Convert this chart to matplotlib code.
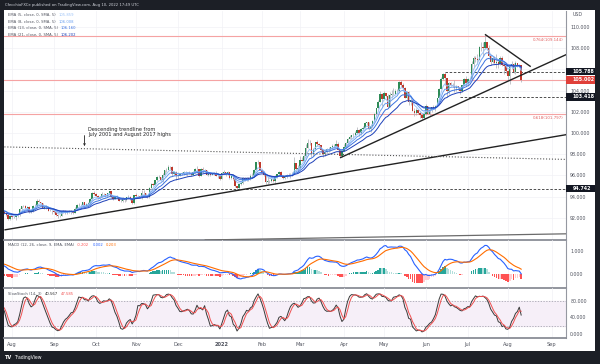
import numpy as np
import pandas as pd
import matplotlib
matplotlib.use("Agg")
import matplotlib.pyplot as plt
from matplotlib.patches import Rectangle

# US Dollar Index daily bars, 1 Jun 2021 - 10 Aug 2022 (one row per month)
close = [
    89.84, 89.91, 90.52, 90.13, 90.02, 90.07, 90.08, 90.07, 90.51, 90.53, 90.53, 91.40, 91.90, 92.22, 91.92, 91.75, 91.80, 91.83, 91.85, 91.89, 92.07, 92.44,
    92.57, 92.23, 92.24, 92.57, 92.64, 92.40, 92.13, 92.24, 92.75, 92.39, 92.69, 92.68, 92.88, 92.95, 92.76, 92.81, 92.90, 92.65, 92.47, 92.29, 91.88, 92.17,
    92.06, 92.06, 92.27, 92.26, 92.80, 93.07, 93.06, 92.93, 92.99, 92.52, 92.61, 93.13, 93.14, 93.59, 93.51, 93.37, 92.96, 92.99, 93.05, 92.67, 92.67, 92.63,
    92.52, 92.24, 92.13, 92.21, 92.51, 92.66, 92.49, 92.57, 92.66, 92.61, 92.48, 92.87, 93.19, 93.24, 93.19, 93.46, 93.08, 93.31, 93.36, 93.77, 94.35, 94.23,
    94.04, 93.82, 93.98, 94.25, 94.23, 94.09, 94.31, 94.51, 93.96, 93.79, 93.95, 93.95, 93.59, 93.56, 93.77, 93.65, 93.92, 93.94, 93.76, 93.37, 94.12,
    94.06, 94.07, 93.93, 94.35, 94.32, 94.04, 93.95, 94.83, 95.17, 95.13, 95.52, 95.84, 95.84, 95.55, 96.02, 96.50, 96.51, 96.83, 96.77, 96.09, 96.34, 95.99,
    96.03, 96.14, 96.19, 96.28, 96.32, 96.29, 96.22, 96.07, 96.34, 96.57, 96.56, 95.97, 96.63, 96.47, 96.52, 96.06, 96.10, 96.03, 96.08, 96.19, 95.97, 95.97, 95.67,
    96.21, 96.27, 96.19, 96.32, 95.72, 95.99, 95.62, 94.96, 94.83, 95.16, 95.27, 95.76, 95.53, 95.75, 95.64, 95.95, 95.92, 96.54, 97.25, 97.27, 96.54,
    96.36, 96.06, 95.40, 95.48, 95.42, 95.62, 95.50, 95.80, 96.08, 96.32, 95.97, 95.75, 95.87, 96.05, 96.05, 96.04, 96.17, 97.13, 96.62, 96.71,
    97.43, 97.38, 97.79, 98.61, 99.07, 99.05, 97.98, 98.49, 99.12, 98.99, 98.82, 98.39, 97.97, 98.20, 98.49, 98.47, 98.63, 98.81, 98.79, 98.94, 98.40, 97.83, 98.31,
    98.63, 99.03, 99.47, 99.63, 99.78, 99.83, 100.01, 100.30, 100.01, 100.33, 100.50, 100.96, 101.03, 100.39, 100.61, 101.12, 101.74, 102.35, 102.96, 103.67, 103.18,
    103.76, 103.46, 102.47, 103.55, 103.66, 103.69, 103.92, 103.95, 104.85, 104.56, 104.19, 103.32, 103.84, 102.90, 103.15, 102.08, 101.84, 102.17, 101.84, 101.66, 101.40, 101.76,
    102.55, 101.80, 102.17, 102.43, 102.33, 102.56, 103.31, 104.16, 105.07, 105.52, 105.14, 103.97, 104.69, 104.52, 104.43, 104.19, 104.42, 104.21, 103.93, 104.51, 105.10, 104.69,
    105.13, 105.11, 106.52, 107.05, 106.96, 106.87, 108.08, 108.07, 108.01, 108.57, 108.00, 107.29, 106.67, 107.06, 106.58, 106.71, 106.47, 107.10, 106.45, 106.29, 105.84,
    105.36, 106.30, 106.54, 105.72, 106.61, 106.37, 106.36, 105.00,
]
high = [
    90.15, 90.04, 90.63, 90.65, 90.19, 90.21, 90.28, 90.28, 90.56, 90.62, 90.64, 91.44, 91.99, 92.41, 92.30, 91.97, 91.83, 91.95, 91.96, 91.95, 92.11, 92.46,
    92.74, 92.70, 92.29, 92.74, 92.83, 92.70, 92.43, 92.29, 92.85, 92.84, 92.80, 92.83, 92.99, 93.19, 93.04, 92.91, 92.96, 92.92, 92.70, 92.61, 92.33, 92.19,
    92.20, 92.18, 92.35, 92.33, 92.88, 93.11, 93.18, 93.19, 93.07, 93.06, 92.73, 93.16, 93.25, 93.73, 93.73, 93.52, 93.43, 93.04, 93.18, 93.11, 92.85, 92.77,
    92.77, 92.56, 92.34, 92.30, 92.56, 92.73, 92.74, 92.63, 92.73, 92.73, 92.65, 93.00, 93.27, 93.43, 93.30, 93.53, 93.48, 93.42, 93.53, 93.86, 94.43, 94.50,
    94.29, 94.11, 94.06, 94.44, 94.30, 94.27, 94.36, 94.56, 94.52, 94.03, 94.00, 94.15, 93.97, 93.76, 93.91, 93.88, 93.99, 94.11, 94.07, 93.87, 94.18,
    94.29, 94.16, 94.17, 94.63, 94.59, 94.30, 94.07, 94.92, 95.27, 95.27, 95.59, 95.94, 96.05, 95.87, 96.19, 96.53, 96.66, 96.94, 96.88, 96.84, 96.42, 96.43,
    96.29, 96.19, 96.35, 96.40, 96.45, 96.33, 96.38, 96.34, 96.37, 96.69, 96.91, 96.59, 96.72, 96.78, 96.58, 96.54, 96.15, 96.16, 96.19, 96.32, 96.44, 96.24, 96.00,
    96.33, 96.46, 96.30, 96.43, 96.35, 96.13, 96.11, 95.69, 95.01, 95.17, 95.37, 95.83, 95.80, 95.82, 95.82, 96.16, 96.21, 96.57, 97.27, 97.44, 97.30,
    96.63, 96.41, 96.08, 95.82, 95.56, 95.70, 95.67, 95.99, 96.16, 96.45, 96.37, 96.03, 96.07, 96.14, 96.19, 96.22, 96.27, 97.74, 97.18, 96.94,
    97.80, 97.74, 98.02, 98.93, 99.42, 99.29, 99.09, 98.61, 99.14, 99.29, 99.03, 98.89, 98.40, 98.40, 98.54, 98.64, 98.68, 98.92, 98.93, 99.29, 99.13, 98.47, 98.44,
    98.93, 99.12, 99.56, 99.76, 99.83, 99.99, 100.17, 100.52, 100.37, 100.50, 100.65, 101.03, 101.03, 101.00, 100.86, 101.25, 101.86, 102.36, 103.06, 103.93, 103.72,
    103.93, 103.79, 103.65, 103.85, 104.07, 104.19, 104.11, 104.14, 104.92, 105.01, 104.67, 104.30, 103.92, 103.93, 103.44, 103.05, 102.35, 102.31, 102.23, 102.04, 101.69, 101.84,
    102.74, 102.58, 102.33, 102.47, 102.60, 102.59, 103.34, 104.24, 105.29, 105.65, 105.79, 105.08, 104.80, 104.85, 104.72, 104.95, 104.51, 104.47, 104.33, 104.56, 105.18, 105.37,
    105.16, 105.20, 106.79, 107.27, 107.25, 107.43, 108.19, 108.56, 108.59, 109.29, 108.59, 108.25, 107.42, 107.20, 107.21, 107.42, 106.87, 107.27, 107.22, 106.55, 106.51,
    105.90, 106.41, 106.81, 106.56, 106.81, 106.62, 106.53, 106.35,
]
low = [
    89.66, 89.79, 89.84, 90.05, 89.97, 89.96, 90.04, 89.98, 90.06, 90.43, 90.46, 90.46, 91.32, 91.76, 91.84, 91.51, 91.66, 91.71, 91.72, 91.76, 91.81, 91.98,
    92.33, 92.16, 92.10, 92.11, 92.51, 92.35, 92.04, 92.04, 92.21, 92.28, 92.33, 92.57, 92.52, 92.82, 92.69, 92.68, 92.73, 92.60, 92.36, 92.15, 91.82, 91.78,
    91.92, 91.93, 91.78, 92.08, 92.20, 92.68, 92.97, 92.85, 92.85, 92.49, 92.47, 92.55, 92.88, 93.12, 93.45, 93.25, 92.94, 92.84, 92.87, 92.64, 92.60, 92.38,
    92.41, 92.20, 91.94, 92.06, 92.13, 92.46, 92.33, 92.37, 92.49, 92.31, 92.33, 92.43, 92.83, 93.13, 93.07, 93.07, 93.03, 93.07, 93.16, 93.26, 93.71, 94.16,
    93.99, 93.79, 93.80, 93.93, 94.07, 93.99, 93.98, 94.29, 93.90, 93.67, 93.80, 93.84, 93.56, 93.50, 93.53, 93.50, 93.58, 93.84, 93.71, 93.28, 93.30,
    93.98, 93.86, 93.87, 93.79, 94.05, 93.95, 93.87, 93.86, 94.83, 95.04, 95.10, 95.43, 95.73, 95.47, 95.33, 95.96, 96.34, 96.47, 96.64, 95.98, 96.03, 95.53,
    95.70, 95.97, 95.99, 96.05, 96.03, 95.98, 96.08, 95.92, 96.10, 96.23, 96.18, 95.86, 96.05, 96.24, 96.28, 96.02, 95.93, 95.96, 95.99, 96.04, 95.93, 95.78, 95.54,
    95.66, 96.10, 95.96, 96.07, 95.69, 95.68, 95.58, 94.93, 94.63, 94.74, 95.06, 95.22, 95.47, 95.43, 95.50, 95.58, 95.87, 95.86, 96.50, 97.05, 96.50,
    96.33, 95.90, 95.14, 95.17, 95.28, 95.40, 95.39, 95.14, 95.77, 95.96, 95.94, 95.70, 95.64, 95.79, 95.97, 95.79, 95.93, 96.17, 96.53, 96.33,
    96.64, 97.31, 97.35, 97.76, 98.77, 98.84, 97.71, 97.81, 98.36, 98.72, 98.65, 98.23, 97.72, 97.80, 97.98, 98.19, 98.34, 98.44, 98.57, 98.72, 98.35, 97.69, 97.72,
    98.31, 98.54, 98.94, 99.39, 99.47, 99.55, 99.74, 99.86, 99.72, 99.78, 100.27, 100.45, 100.74, 100.23, 100.13, 100.58, 101.06, 101.55, 102.24, 102.88, 102.57,
    103.16, 103.35, 102.34, 102.40, 103.32, 103.56, 103.57, 103.65, 103.81, 104.34, 104.03, 103.27, 103.11, 102.67, 102.64, 102.06, 101.64, 101.72, 101.77, 101.43, 101.30, 101.31,
    101.72, 101.80, 101.64, 101.98, 102.23, 102.09, 102.52, 103.22, 104.17, 104.96, 104.56, 103.41, 103.69, 104.40, 104.30, 103.86, 103.91, 104.06, 103.70, 103.84, 104.43, 104.44,
    104.43, 105.03, 104.96, 106.24, 106.69, 106.53, 107.23, 107.77, 107.21, 107.96, 107.78, 107.19, 106.38, 106.58, 106.51, 106.11, 106.12, 106.38, 106.29, 105.58, 105.68,
    105.03, 104.63, 106.07, 105.61, 105.58, 106.26, 106.21, 104.82,
]

ema_periods = [5, 8, 13, 21]
ema_colors = ["#9cc3f7", "#6a9ff0", "#3a72e0", "#1c3fb8"]
ema_values = ["105.859", "106.008", "106.160", "106.202"]
macd_values = ["-0.202", "0.002", "0.203"]
stoch_values = ["40.567", "47.585"]

fib_levels = [("0.764", 109.144), ("0.618", 101.797)]
level_105 = 105.002
dashed_levels = [105.788, 103.418, 94.742]
dashed_start = ["2022-06-15", "2022-06-27", None]
month_labels = ["Aug", "Sep", "Oct", "Nov", "Dec", "2022", "Feb", "Mar",
                "Apr", "May", "Jun", "Jul", "Aug", "Sep"]

# drawn trendlines: (start date, start price, end date, end price)
rising_long = ("2021-07-27", 90.85, "2022-09-20", 100.0)
rising_short = ("2022-03-30", 97.65, "2022-09-20", 107.83)
falling_short = ("2022-07-14", 109.3, "2022-08-17", 106.25)
rising_floor = ("2021-12-21", 89.9, "2022-09-20", 90.5)
desc_dotted = ("2021-07-27", 98.68, "2022-09-20", 97.48)

dates = pd.bdate_range("2021-06-01", "2022-08-10")
all_days = pd.bdate_range("2021-06-01", "2022-09-30")
assert len(close) == len(high) == len(low) == len(dates)
start = all_days.get_loc(pd.Timestamp("2021-08-02"))

def xpos(d):
    return all_days.get_loc(pd.Timestamp(d)) - start

df = pd.DataFrame({"c": close, "h": high, "l": low}, index=dates)
df["o"] = df["c"].shift(1).fillna(df["c"])
df["h"] = df[["h", "o", "c"]].max(axis=1)
df["l"] = df[["l", "o", "c"]].min(axis=1)
x = np.arange(len(df)) - start

# indicators
emas = [df["c"].ewm(span=p, adjust=False).mean() for p in ema_periods]
macd = df["c"].ewm(span=12, adjust=False).mean() - df["c"].ewm(span=26, adjust=False).mean()
signal = macd.ewm(span=9, adjust=False).mean()
hist = macd - signal
ll = df["l"].rolling(14, min_periods=1).min()
hh = df["h"].rolling(14, min_periods=1).max()
k = (100 * (df["c"] - ll) / (hh - ll)).rolling(3, min_periods=1).mean()
d = k.rolling(3, min_periods=1).mean()

# figure layout in pixels
W, H = 600, 364
L, R = 4, 566
fig = plt.figure(figsize=(W / 100, H / 100), dpi=100, facecolor="#1c1f26")
fig.patches.append(Rectangle((L / W, 1 - 351 / H), (595 - L) / W, 341 / H,
                             transform=fig.transFigure, facecolor="white", zorder=-5))

def axes_at(top, bottom):
    return fig.add_axes([L / W, 1 - bottom / H, (R - L) / W, (bottom - top) / H])

ax = axes_at(11, 240)
axm = axes_at(240, 288)
axs = axes_at(288, 338)

xmin, xmax = -4.2, 290.5
month_x = [i - start for i in range(1, len(all_days))
           if all_days[i].month != all_days[i - 1].month and i > start]
month_x = [0] + month_x

grid_c = "#f1f2f5"
for a in (ax, axm, axs):
    a.set_xlim(xmin, xmax)
    a.set_facecolor("none")
    for xv in month_x:
        a.axvline(xv, color=grid_c, lw=0.5, zorder=0)
    a.yaxis.tick_right()
    a.tick_params(axis="y", length=0, pad=3, labelsize=3.4, labelcolor="#50535e")
    a.tick_params(axis="x", length=0)
    for s in ("left", "top"):
        a.spines[s].set_visible(False)
    a.spines["right"].set_color("#9598a1")
    a.spines["right"].set_linewidth(0.8)
    a.spines["bottom"].set_color("#8a8d96")
    a.spines["bottom"].set_linewidth(1.3)
    a.set_xticks([])

# price pane
ax.set_ylim(89.9, 111.5)
price_ticks = [92, 94, 96, 98, 100, 102, 104, 108, 110]
ax.set_yticks(price_ticks)
ax.set_yticklabels([f"{t:.3f}" for t in price_ticks])
for t in range(92, 111, 2):
    ax.axhline(t, color=grid_c, lw=0.5, zorder=0)
ax.text(1.012, 0.985, "USD", transform=ax.transAxes, fontsize=3.4, color="#50535e",
        va="center", ha="left")

for name, lvl in fib_levels:
    ax.axhline(lvl, color="#f5a3a3", lw=0.8, zorder=1)
    ax.text(xmax - 1.5, lvl - 0.22, f"{name}({lvl:.3f})", fontsize=2.9,
            color="#e06060", ha="right", va="top")
ax.axhline(level_105, color="#f5a3a3", lw=0.8, zorder=1)

for lvl, st in zip(dashed_levels, dashed_start):
    x0 = xpos(st) if st else xmin
    ax.plot([x0, xmax], [lvl, lvl], color="#333333", lw=0.6, ls=(0, (3, 2)), zorder=2)

for (d0, p0, d1, p1), col, lw, ls in [
        (rising_long, "#222222", 1.0, "-"),
        (rising_short, "#222222", 1.0, "-"),
        (falling_short, "#222222", 1.0, "-"),
        (rising_floor, "#6b6b6b", 0.9, "-"),
        (desc_dotted, "#555555", 0.8, ":")]:
    ax.plot([xpos(d0), xpos(d1)], [p0, p1], color=col, lw=lw, ls=ls, zorder=5,
            solid_capstyle="butt")

up = df["c"] >= df["o"]
ax.vlines(x, df["l"], df["h"], color="#a9abb3", lw=0.5, zorder=3)
ax.bar(x, (df["c"] - df["o"]).values, bottom=df["o"].values, width=0.75,
       color=np.where(up, "#2e8b57", "#c0392b"), zorder=4)
for e, col in zip(emas, ema_colors):
    ax.plot(x, e.values, color=col, lw=0.7, zorder=4)

ax.annotate("", xy=(xpos("2021-09-23"), 98.75), xytext=(xpos("2021-09-23"), 99.75),
            arrowprops=dict(arrowstyle="->", lw=0.6, color="#222222",
                            shrinkA=0, shrinkB=0, mutation_scale=3))
ax.text(xpos("2021-09-27"), 100.6, "Descending trendline from\nJuly 2001 and August 2017 highs",
        fontsize=3.6, color="#222222", va="top", ha="left", linespacing=1.05)

# price labels on the axis
box_w = (595 - R) / (R - L)
for lvl, fc in [(105.788, "#131722"), (level_105, "#e0403a"), (103.418, "#131722"),
                (94.742, "#131722")]:
    ax.add_patch(Rectangle((1.0, lvl - 0.36), box_w, 0.72, transform=ax.get_yaxis_transform(),
                           facecolor=fc, edgecolor="none", clip_on=False, zorder=10))
    ax.text(1.012, lvl, f"{lvl:.3f}", transform=ax.get_yaxis_transform(), fontsize=3.4,
            color="white", va="center", ha="left", zorder=11, fontweight="bold")

# legends
def legend(a, ytop_px, parts):
    y = 1 - ytop_px / (a.bbox.height)
    first = a.text(0.007, y, parts[0][0], transform=a.transAxes, fontsize=2.7,
                   color=parts[0][1], va="center", ha="left")
    prev = first
    for txt, col in parts[1:]:
        prev = a.annotate(txt, xy=(1, 0.5), xycoords=prev, xytext=(2.2, 0),
                          textcoords="offset points", fontsize=2.7, color=col,
                          va="center", ha="left")

for i, (p, col, val) in enumerate(zip(ema_periods, ema_colors, ema_values)):
    legend(ax, 4 + 6.6 * i, [(f"EMA ({p}, close, 0, SMA, 5)", "#50535e"), (val, col)])

# MACD pane
axm.set_ylim(-0.6, 1.46)
axm.set_yticks([0, 1])
axm.set_yticklabels(["0.000", "1.000"])
prev = hist.shift(1).fillna(0)
hcol = np.where(hist >= 0, np.where(hist >= prev, "#26a69a", "#b2dfdb"),
                np.where(hist < prev, "#ff5252", "#ffcdd2"))
axm.bar(x, hist.values, width=0.8, color=hcol, zorder=2)
axm.plot(x, macd.values, color="#2962ff", lw=0.8, zorder=3)
axm.plot(x, signal.values, color="#ff6d00", lw=0.8, zorder=3)
legend(axm, 5, [("MACD (12, 26, close, 9, EMA, EMA)", "#50535e"),
                (macd_values[0], "#ff5252"), (macd_values[1], "#2962ff"),
                (macd_values[2], "#ff6d00")])

# Slow stochastic pane
axs.set_ylim(-9.7, 111.5)
axs.set_yticks([0, 40, 80])
axs.set_yticklabels(["0.000", "40.000", "80.000"])
axs.axhspan(20, 80, color="#f6eff8", zorder=0)
for lvl in (20, 80):
    axs.axhline(lvl, color="#9a9aa5", lw=0.5, ls=(0, (2, 2)), zorder=1)
axs.plot(x, k.values, color="#3a3a3a", lw=0.7, zorder=3)
axs.plot(x, d.values, color="#f05050", lw=0.7, zorder=3)
legend(axs, 6, [("SlowStoch (14, 3)", "#50535e"), (stoch_values[0], "#222222"),
                (stoch_values[1], "#f05050")])

axs.set_xticks(month_x)
axs.set_xticklabels(month_labels, fontsize=3.6, color="#50535e")
axs.tick_params(axis="x", pad=3)
for lab in axs.get_xticklabels():
    if lab.get_text() == "2022":
        lab.set_fontweight("bold")

fig.text(5 / W, 1 - 5 / H, "CfecchioFXCe published on TradingView.com, Aug 10, 2022 17:49 UTC",
         fontsize=2.7, color="#d1d4dc", va="center", ha="left")
fig.text(5 / W, 1 - 357.5 / H, "TV", fontsize=3.6, color="white", fontweight="bold",
         va="center", ha="left")
fig.text(14 / W, 1 - 357.5 / H, "TradingView", fontsize=3.3, color="white",
         va="center", ha="left")

fig.savefig("out.png", dpi=100, facecolor=fig.get_facecolor())
